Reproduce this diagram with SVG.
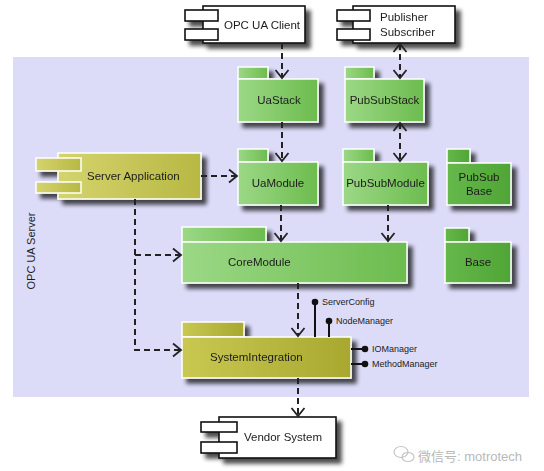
<svg xmlns="http://www.w3.org/2000/svg" width="544" height="471" viewBox="0 0 544 471">
<defs>
  <filter id="sh" x="-20%" y="-20%" width="150%" height="170%">
    <feGaussianBlur in="SourceAlpha" stdDeviation="2.3"/>
    <feOffset dx="4.5" dy="4.5" result="b"/>
    <feComponentTransfer><feFuncA type="linear" slope="0.7"/></feComponentTransfer>
    <feMerge><feMergeNode/><feMergeNode in="SourceGraphic"/></feMerge>
  </filter>
  <linearGradient id="g" x1="0" y1="0" x2="1" y2="0">
    <stop offset="0" stop-color="#9cd886"/>
    <stop offset="1" stop-color="#6cbc4e"/>
  </linearGradient>
  <linearGradient id="dg" x1="0" y1="0" x2="1" y2="0">
    <stop offset="0" stop-color="#66b84a"/>
    <stop offset="1" stop-color="#4fa536"/>
  </linearGradient>
  <linearGradient id="ol" x1="0" y1="0" x2="1" y2="0">
    <stop offset="0" stop-color="#d4d46e"/>
    <stop offset="1" stop-color="#b8b844"/>
  </linearGradient>
  <linearGradient id="ol2" x1="0" y1="0" x2="1" y2="0">
    <stop offset="0" stop-color="#c8c852"/>
    <stop offset="1" stop-color="#a8a830"/>
  </linearGradient>
  <marker id="ah" viewBox="-10 -8 12 16" refX="0" refY="0" markerWidth="12" markerHeight="16" markerUnits="userSpaceOnUse" orient="auto-start-reverse">
    <path d="M-8,-6.5 L0,0 L-8,6.5" fill="none" stroke="#222" stroke-width="1.8"/>
  </marker>
</defs>
<style>
  .t{font-family:"Liberation Sans",Arial,sans-serif;fill:#1c1c1c}
  .m{font-size:11.5px}
  .s{font-size:9px}
  .comp{fill:#fff;stroke:#111;stroke-width:1.6}
  .pk{stroke:#fff;stroke-width:1.5}
  .dash{fill:none;stroke:#222;stroke-width:2;stroke-dasharray:6,4}
  .lol{fill:none;stroke:#111;stroke-width:2}
</style>
<rect x="0" y="0" width="544" height="471" fill="#fff"/>
<rect id="opcua-server" x="13" y="57" width="516" height="340" fill="#dcdcf9"/>
<text class="t" font-size="11" transform="translate(35,251) rotate(-90)" text-anchor="middle">OPC UA Server</text>

<g id="opcua-client" filter="url(#sh)">
  <rect class="comp" x="203" y="6" width="102" height="37"/>
  <rect class="comp" x="185" y="10" width="33" height="11"/>
  <rect class="comp" x="185" y="29" width="33" height="11"/>
  <text class="t m" x="224" y="29">OPC UA Client</text>
</g>
<g id="pubsub-client" filter="url(#sh)">
  <rect class="comp" x="353" y="6" width="102" height="37"/>
  <rect class="comp" x="337" y="10" width="33" height="11"/>
  <rect class="comp" x="337" y="29" width="33" height="11"/>
  <text class="t m" x="380" y="21">Publisher</text>
  <text class="t m" x="380" y="36">Subscriber</text>
</g>

<g id="uastack" filter="url(#sh)">
  <rect class="pk" x="238" y="67" width="30" height="12" fill="url(#g)"/>
  <rect class="pk" x="238" y="79" width="80" height="43" fill="url(#g)"/>
  <text class="t m" x="279" y="104" text-anchor="middle">UaStack</text>
</g>
<g id="pubsubstack" filter="url(#sh)">
  <rect class="pk" x="345" y="67" width="29" height="12" fill="url(#g)"/>
  <rect class="pk" x="345" y="79" width="79" height="43" fill="url(#g)"/>
  <text class="t m" x="384.5" y="104" text-anchor="middle">PubSubStack</text>
</g>
<g id="uamodule" filter="url(#sh)">
  <rect class="pk" x="238" y="149" width="30" height="13" fill="url(#g)"/>
  <rect class="pk" x="238" y="162" width="80" height="43" fill="url(#g)"/>
  <text class="t m" x="278" y="187" text-anchor="middle">UaModule</text>
</g>
<g id="pubsubmodule" filter="url(#sh)">
  <rect class="pk" x="343" y="149" width="31" height="13" fill="url(#g)"/>
  <rect class="pk" x="343" y="162" width="85" height="43" fill="url(#g)"/>
  <text class="t m" x="385.5" y="187" text-anchor="middle">PubSubModule</text>
</g>
<g id="pubsubbase" filter="url(#sh)">
  <rect class="pk" x="447" y="149" width="23" height="14" fill="url(#dg)"/>
  <rect class="pk" x="447" y="163" width="64" height="42" fill="url(#dg)"/>
  <text class="t m" x="479" y="181" text-anchor="middle">PubSub</text>
  <text class="t m" x="479" y="195" text-anchor="middle">Base</text>
</g>
<g id="base" filter="url(#sh)">
  <rect class="pk" x="445" y="228" width="24" height="14" fill="url(#dg)"/>
  <rect class="pk" x="445" y="242" width="66" height="41" fill="url(#dg)"/>
  <text class="t m" x="478" y="266" text-anchor="middle">Base</text>
</g>
<g id="coremodule" filter="url(#sh)">
  <rect class="pk" x="182" y="227" width="84" height="15" fill="url(#g)"/>
  <rect class="pk" x="182" y="242" width="225" height="41" fill="url(#g)"/>
  <text class="t m" x="228" y="266">CoreModule</text>
</g>
<g id="serverapp" filter="url(#sh)">
  <rect class="pk" x="58" y="153" width="143" height="46" fill="url(#ol)"/>
  <rect class="pk" x="36" y="158" width="45" height="13" fill="url(#ol)"/>
  <rect class="pk" x="36" y="182" width="45" height="11" fill="url(#ol)"/>
  <text class="t m" x="87" y="180">Server Application</text>
</g>
<g id="systemintegration" filter="url(#sh)">
  <rect class="pk" x="182" y="322" width="62" height="15" fill="url(#ol2)"/>
  <rect class="pk" x="182" y="337" width="169" height="41" fill="url(#ol2)"/>
  <text class="t m" x="210" y="361">SystemIntegration</text>
</g>
<g id="vendor" filter="url(#sh)">
  <rect class="comp" x="219" y="417" width="117" height="41"/>
  <rect class="comp" x="201" y="422" width="36" height="10"/>
  <rect class="comp" x="201" y="442" width="36" height="11"/>
  <text class="t m" x="244" y="441">Vendor System</text>
</g>

<g id="connectors">
  <path class="dash" d="M282,43 V78" marker-end="url(#ah)"/>
  <path class="dash" d="M400,44 V78" marker-start="url(#ah)" marker-end="url(#ah)"/>
  <path class="dash" d="M282,122 V161" marker-end="url(#ah)"/>
  <path class="dash" d="M400,123 V161" marker-start="url(#ah)" marker-end="url(#ah)"/>
  <path class="dash" d="M201,176 H237" marker-end="url(#ah)"/>
  <path class="dash" d="M281,205 V241" marker-end="url(#ah)"/>
  <path class="dash" d="M388,205 V241" marker-end="url(#ah)"/>
  <path class="dash" d="M135,199 V350 H181" marker-end="url(#ah)"/>
  <path class="dash" d="M135,255 H181" marker-end="url(#ah)"/>
  <path class="dash" d="M298,283 V336" marker-end="url(#ah)"/>
  <path class="dash" d="M298,378 V416" marker-end="url(#ah)"/>
</g>

<g id="interfaces">
  <path class="lol" d="M315,337 V302 M329,337 V321 M351,349 H365 M351,364 H365"/>
  <circle cx="315" cy="302" r="3.3" fill="#111"/>
  <circle cx="329" cy="321" r="3.3" fill="#111"/>
  <circle cx="365" cy="349" r="3.3" fill="#111"/>
  <circle cx="365" cy="364" r="3.3" fill="#111"/>
  <text class="t s" x="322" y="305">ServerConfig</text>
  <text class="t s" x="336" y="324">NodeManager</text>
  <text class="t s" x="372" y="352">IOManager</text>
  <text class="t s" x="372" y="367">MethodManager</text>
</g>

<g id="watermark" fill="none" stroke="#c4c4c4" stroke-width="1.2">
  <ellipse cx="401" cy="452" rx="7" ry="5.5"/>
  <ellipse cx="408" cy="457" rx="6" ry="4.5"/>
</g>
<text x="418" y="461" font-family="'Liberation Sans','Noto Sans CJK SC',sans-serif" font-size="13" fill="#b8b8b8">微信号: motrotech</text>
</svg>
